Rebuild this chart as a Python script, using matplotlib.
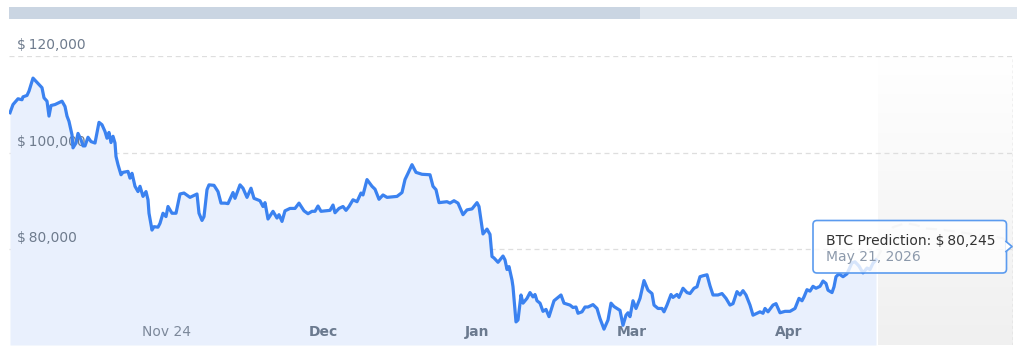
import matplotlib.pyplot as plt
import numpy as np
from matplotlib.colors import LinearSegmentedColormap
from matplotlib.lines import Line2D
from matplotlib.patches import FancyBboxPatch, Polygon, Rectangle

# chart time index (ordinal axis units) and BTC close price
t = np.array([
    10, 13, 18, 22, 23, 27, 29, 33, 37, 42, 44, 47, 49, 51, 55, 58, 62, 65, 67, 69,
    72, 73, 76, 78, 81, 83, 85, 88, 91, 95, 99, 102, 105, 107, 109, 111, 113, 115, 116, 118,
    121, 123, 128, 130, 132, 135, 138, 140, 143, 146, 148, 149, 152, 154, 158, 160, 163, 166, 168, 172,
    176, 180, 184, 190, 197, 199, 202, 204, 207, 209, 214, 218, 221, 225, 228, 233, 235, 240, 243, 247,
    251, 254, 260, 263, 265, 268, 273, 277, 279, 282, 285, 290, 295, 299, 304, 308, 312, 315, 318, 321,
    330, 333, 335, 339, 343, 346, 349, 353, 357, 361, 363, 367, 372, 375, 379, 383, 387, 397, 402, 405,
    408, 412, 416, 422, 430, 433, 436, 439, 447, 450, 454, 458, 463, 467, 472, 477, 479, 483, 487, 490,
    492, 494, 498, 503, 505, 507, 509, 512, 513, 516, 518, 521, 523, 527, 530, 533, 535, 537, 540, 543,
    546, 549, 554, 558, 561, 564, 570, 573, 576, 578, 582, 585, 588, 593, 597, 600, 604, 608, 611, 614,
    617, 620, 623, 626, 628, 630, 633, 636, 640, 644, 648, 652, 654, 658, 662, 664, 667, 671, 673, 677,
    679, 683, 687, 690, 694, 697, 700, 703, 707, 710, 713, 718, 722, 726, 730, 733, 737, 740, 743, 746,
    750, 753, 757, 760, 763, 765, 768, 773, 776, 780, 785, 790, 795, 799, 802, 804, 807, 810, 813, 816,
    820, 823, 826, 828, 832, 834, 836, 839, 843, 847, 852, 855, 859, 863, 867, 870, 873, 876,
])
price = np.array([
    108300, 110000, 111200, 111000, 111600, 111900, 112800, 115500, 114600, 113500,
    111400, 110700, 107600, 109800, 110000, 110300, 110700, 109600, 107600, 106500,
    103700, 101000, 102000, 104000, 102700, 101400, 101400, 103200, 102300, 102000,
    106300, 105800, 104400, 103000, 104200, 102100, 103400, 102000, 99200, 97500,
    95400, 95900, 96100, 94700, 95700, 93000, 91900, 93000, 90900, 91900,
    90200, 87400, 83900, 84600, 84500, 85300, 87400, 86700, 88800, 87400,
    87400, 91400, 91600, 90700, 91400, 87400, 85900, 86700, 92300, 93300,
    93200, 91900, 89500, 89500, 89400, 91700, 90500, 93300, 92600, 90700,
    92600, 90500, 90000, 88800, 89600, 86200, 87800, 86400, 87100, 85700,
    87900, 88400, 88400, 89500, 87900, 87300, 87800, 87800, 88900, 87800,
    88000, 89100, 87500, 88400, 88800, 88000, 88800, 90200, 89800, 91600,
    91200, 94400, 93000, 92400, 90300, 91200, 90700, 90900, 91700, 94400,
    95700, 97500, 95900, 95500, 95400, 93000, 92300, 89600, 89800, 89500,
    90000, 89500, 87100, 88100, 88300, 89600, 88800, 83100, 84100, 83000,
    78400, 78100, 77200, 78500, 77700, 75700, 76300, 73500, 72100, 64800,
    65200, 70400, 68700, 69700, 70900, 70000, 70500, 69200, 68700, 67000,
    67400, 65900, 69200, 69900, 70400, 68700, 68300, 67800, 67900, 66600,
    66900, 67900, 67900, 68400, 67600, 65500, 63300, 65200, 68700, 68000,
    67600, 67200, 64100, 66200, 66700, 65900, 69200, 67600, 69700, 73400,
    71400, 70700, 68300, 67600, 67600, 66900, 68300, 70500, 69900, 70500,
    69900, 71800, 70900, 70700, 71800, 72100, 74200, 74400, 74600, 72300,
    70400, 70400, 70700, 69700, 68300, 68600, 71100, 70400, 71300, 70400,
    68300, 66200, 66600, 66900, 66600, 67600, 66900, 68300, 68600, 66700,
    67000, 67000, 67600, 69700, 69200, 70000, 71500, 71200, 72200, 71800,
    72200, 73300, 72800, 71400, 70900, 72100, 74200, 74800, 74200, 74800,
    77100, 77300, 76400, 75000, 76000, 75700, 77000, 77700,
])

forecast_t = np.array([876, 885, 893, 905, 915, 927, 940, 955, 968, 980, 993, 1003, 1013])
forecast_price = np.array([77700, 81000, 84500, 85300, 85000, 84200, 84000, 83600, 83200,
                           82900, 82600, 82200, 80245])

forecast_start = 878
cursor_t = 1013

y_ticks = [80000, 100000, 120000]
x_tick_pos = [166, 323.5, 477.5, 632, 789]
x_tick_labels = ["Nov 24", "Dec", "Jan", "Mar", "Apr"]
x_tick_bold = [False, True, True, True, True]

tooltip_title = "BTC Prediction:"
tooltip_value = 80245
tooltip_date = "May 21, 2026"

W, H = 1024, 359
fig = plt.figure(figsize=(W / 100, H / 100), dpi=100)

ax = fig.add_axes([9 / W, 1 - 345 / H, (1013 - 9) / W, (345 - 55.5) / H])
ax.set_axis_off()

# forecast zone: white at the top fading into light grey at the bottom
grey = LinearSegmentedColormap.from_list("fade", ["#ffffff", "#f0f0f0"])
ax.imshow(np.linspace(1, 0, 256).reshape(-1, 1), cmap=grey, origin="lower",
          extent=(forecast_start, cursor_t, 60000, 120200), aspect="auto", zorder=0)

for v in y_ticks:
    ax.axhline(v, color="#dedede", lw=0.9, ls=(0, (4, 3)), zorder=1)
    ax.annotate(f"$\u2009{v:,}", xy=(0, v), xycoords=("axes fraction", "data"),
                xytext=(8, 11), textcoords="offset pixels", ha="left", va="center",
                color="#6e7b8d", fontsize=10, zorder=1.5)

ax.fill_between(t, price, 60000, color="#e9f0fd", lw=0, zorder=1.2)
ax.plot(t, price, color="#3b82f0", lw=2.3, solid_joinstyle="round", zorder=3)
ax.plot(forecast_t, forecast_price, color="#d6d6d6", lw=1.6, ls=(0, (5, 3)), zorder=2)
ax.axvline(cursor_t - 0.5, color="#bdbdbd", lw=1, ls=(0, (2, 2)), zorder=2)

for pos, lab, bold in zip(x_tick_pos, x_tick_labels, x_tick_bold):
    ax.annotate(lab, xy=(pos, 0), xycoords=("data", "axes fraction"),
                xytext=(0, 13), textcoords="offset pixels", ha="center", va="center",
                color="#6b7a8f" if bold else "#7d899b", fontsize=10,
                fontweight="bold" if bold else "normal", zorder=4)

ax.set_xlim(9, 1013)
ax.set_ylim(60000, 120200)

# overlay in pixel coordinates for scrollbar and tooltip
ov = fig.add_axes([0, 0, 1, 1])
ov.set_xlim(0, W)
ov.set_ylim(H, 0)
ov.set_axis_off()

ov.add_patch(Rectangle((9, 7), 1008, 12, color="#dfe6ee", lw=0))
ov.add_patch(Rectangle((9, 7), 631, 12, color="#cad5e2", lw=0))

ov.add_patch(FancyBboxPatch((813, 220.5), 193.5, 52.5, boxstyle="round,pad=0,rounding_size=4",
                            fc=(1, 1, 1, 0.8), ec="#5b9bef", lw=1.2))
ov.add_patch(Polygon([(1005.5, 241.5), (1012, 246.5), (1005.5, 251.5)], closed=True,
                     fc="white", ec="none"))
ov.add_line(Line2D([1006, 1012, 1006], [241.5, 246.5, 251.5], color="#5b9bef", lw=1.2))
ov.text(826, 241, f"{tooltip_title} $\u2009{tooltip_value:,}", ha="left", va="center",
        color="#333333", fontsize=10)
ov.text(826, 257.5, tooltip_date, ha="left", va="center", color="#8c99ab", fontsize=10)

fig.savefig("out.png", dpi=100)
plt.close(fig)
